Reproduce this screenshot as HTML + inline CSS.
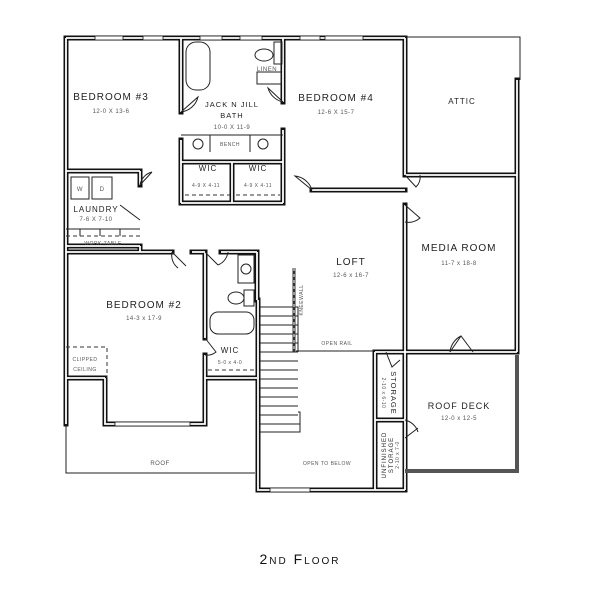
<!DOCTYPE html>
<html><head><meta charset="utf-8"><style>
html,body{margin:0;padding:0;background:#fff;width:600px;height:613px;overflow:hidden}
svg{display:block}
text{font-family:"Liberation Sans",sans-serif;fill:#222}
.w{fill:none;stroke:#111;stroke-width:5;stroke-linecap:square}
.wi{fill:none;stroke:#fff;stroke-width:1.8;stroke-linecap:butt}
.t{fill:none;stroke:#222;stroke-width:1}
.d{fill:none;stroke:#333;stroke-width:1;stroke-dasharray:4 3}
.big{font-size:10px;letter-spacing:1px}
.sm{font-size:6px;letter-spacing:0.5px;fill:#555}
</style></head><body>
<svg width="600" height="613" viewBox="0 0 600 613">
<defs>
<g id="walls">
<path d="M66,38 H405 M66,38 V424 M405,38 V175 M405,205 V490
M66,171 H140 M66,246 H140 M140,246 V252 M140,171 V185
M181,38 V112 M181,140 V203 M283,38 V102 M283,130 V203 M181,203 H283 M232,162 V203 M181,162 H283
M312,190 H405 M181,38 V38
M66,252 H172 M192,252 H205 M205,252 V338 M205,355 V378 M66,378 H105 M105,378 V424 H205 V378 H257 M257,252 V300 M221,252 H257
M405,175 H517 M517,80 V352 M405,352 H517
M258,300 V490 H405 M375,352 V490 M375,420 H405 M375,352 H405"/>
</g>
</defs>
<use href="#walls" class="w"/>
<use href="#walls" class="wi"/>
<!-- attic thin lines -->
<path class="t" d="M405,37 H520 V80"/>
<!-- roof deck gray wall -->
<path d="M405,471 H517 V355" fill="none" stroke="#555" stroke-width="4"/>
<!-- roof outline -->
<path class="t" d="M66,424 V473 H255"/>
<text x="160" y="465" class="sm" text-anchor="middle">ROOF</text>
<!-- windows -->
<g fill="#fff" stroke="#111" stroke-width="0.8">
<rect x="95" y="36" width="28" height="4"/><rect x="143" y="36" width="20" height="4"/>
<rect x="200" y="36" width="22" height="4"/><rect x="240" y="36" width="22" height="4"/>
<rect x="300" y="36" width="20" height="4"/><rect x="325" y="36" width="38" height="4"/>
<rect x="115" y="422" width="75" height="4"/>
<rect x="270" y="488" width="40" height="4"/>
</g>
<!-- stairs -->
<g class="t">
<path d="M260,307 H298 V352"/>
<path d="M260,316H298M260,325H298M260,334H298M260,343H298M260,352H298M260,361H298M260,370H298M260,379H298M260,388H298M260,397H298M260,406H298M260,415H298M260,424H300V412H298M260,432H300V412"/>
</g>
<path d="M294,268 V352" stroke="#333" stroke-width="3" fill="none"/>
<path d="M294,268 V352" stroke="#fff" stroke-width="1" stroke-dasharray="3 3" fill="none"/>
<path class="t" d="M296,351 H375"/>
<!-- doors -->
<g class="t">
<path d="M140,185 L152,172 M140,185 A16,16 0 0 1 152,172"/>
<path d="M181,112 L198,97 A20,20 0 0 1 181,112"/>
<path d="M283,102 L268,88 A20,20 0 0 0 283,102"/>
<path d="M312,190 L295,176 A20,20 0 0 1 312,190"/>
<path d="M405,205 L420,218 A18,18 0 0 1 405,222"/>
<path d="M405,175 L416,187 A14,14 0 0 0 420,175"/>
<path d="M172,252 L186,266 M172,252 A16,16 0 0 0 178,268"/>
<path d="M205,252 L218,265 M228,252 A16,16 0 0 1 218,265"/>
<path d="M205,338 L216,352 A14,14 0 0 1 205,355"/>
<path d="M386,352 L392,367 L400,360"/>
<path d="M450,352 L461,336 L473,352 M450,352 A20,20 0 0 1 461,336"/>
<path d="M405,438 L418,428 M405,420 A18,18 0 0 1 418,432"/>
<path d="M140,220 L120,205"/>
</g>
<!-- fixtures -->
<g class="t">
<rect x="186" y="42" width="24" height="48" rx="10"/>
<ellipse cx="264" cy="55" rx="9" ry="6"/><rect x="274" y="42" width="8" height="22"/>
<rect x="257" y="72" width="24" height="12"/>
<path d="M181,135 H283 M210,135 V152 M250,135 V152"/>
<circle cx="198" cy="144" r="5"/><circle cx="263" cy="144" r="5"/>
<rect x="71" y="177" width="18" height="22"/><rect x="92" y="177" width="20" height="22"/>
<path d="M66,229 H140 M80,229 V236 M100,229 V236 M120,229 V236"/>
<path class="d" d="M66,236 H140"/>
<rect x="238" y="255" width="16" height="28"/><circle cx="246" cy="269" r="5"/>
<ellipse cx="236" cy="298" rx="8" ry="6"/><rect x="244" y="290" width="10" height="16"/>
<rect x="210" y="312" width="44" height="22" rx="8"/>
</g>
<path class="d" d="M185,195 H230 M236,195 H280 M208,370 H255 M66,347 H107 V378"/>
<!-- labels -->
<text x="111" y="100" class="big" text-anchor="middle">BEDROOM #3</text>
<text x="111" y="113" class="sm" text-anchor="middle">12-0 X 13-6</text>
<text x="232" y="107" class="big" style="font-size:7.5px" text-anchor="middle">JACK N JILL</text>
<text x="232" y="118" class="big" style="font-size:7.5px" text-anchor="middle">BATH</text>
<text x="232" y="129" class="sm" text-anchor="middle">10-0 X 11-9</text>
<text x="230" y="146" class="sm" style="font-size:5px" text-anchor="middle">BENCH</text>
<text x="267" y="71" class="sm" text-anchor="middle">LINEN</text>
<text x="208" y="171" class="big" style="font-size:8px" text-anchor="middle">WIC</text>
<text x="258" y="171" class="big" style="font-size:8px" text-anchor="middle">WIC</text>
<text x="206" y="187" class="sm" style="font-size:5px" text-anchor="middle">4-9 X 4-11</text>
<text x="258" y="187" class="sm" style="font-size:5px" text-anchor="middle">4-9 X 4-11</text>
<text x="80" y="191" class="sm" text-anchor="middle">W</text><text x="102" y="191" class="sm" text-anchor="middle">D</text>
<text x="96" y="212" class="big" style="font-size:8px" text-anchor="middle">LAUNDRY</text>
<text x="96" y="221" class="sm" text-anchor="middle">7-6 X 7-10</text>
<text x="103" y="245" class="sm" style="font-size:5px" text-anchor="middle">WORK TABLE</text>
<text x="336" y="101" class="big" text-anchor="middle">BEDROOM #4</text>
<text x="336" y="114" class="sm" text-anchor="middle">12-6 X 15-7</text>
<text x="462" y="104" class="big" style="font-size:8px" text-anchor="middle">ATTIC</text>
<text x="459" y="251" class="big" text-anchor="middle">MEDIA ROOM</text>
<text x="459" y="265" class="sm" text-anchor="middle">11-7 x 18-8</text>
<text x="351" y="265" class="big" text-anchor="middle">LOFT</text>
<text x="351" y="277" class="sm" text-anchor="middle">12-6 x 16-7</text>
<text x="144" y="308" class="big" text-anchor="middle">BEDROOM #2</text>
<text x="144" y="320" class="sm" text-anchor="middle">14-3 x 17-9</text>
<text x="85" y="361" class="sm" style="font-size:5px" text-anchor="middle">CLIPPED</text>
<text x="85" y="371" class="sm" style="font-size:5px" text-anchor="middle">CEILING</text>
<text x="230" y="353" class="big" style="font-size:8px" text-anchor="middle">WIC</text>
<text x="230" y="364" class="sm" style="font-size:5px" text-anchor="middle">5-0 x 4-0</text>
<text x="337" y="345" class="sm" style="font-size:5px" text-anchor="middle">OPEN RAIL</text>
<text x="327" y="465" class="sm" style="font-size:5px" text-anchor="middle">OPEN TO BELOW</text>
<text x="459" y="409" class="big" style="font-size:9px" text-anchor="middle">ROOF DECK</text>
<text x="459" y="420" class="sm" text-anchor="middle">12-0 x 12-5</text>
<text transform="translate(303,300) rotate(-90)" class="sm" style="font-size:5px" text-anchor="middle">KNEEWALL</text>
<text transform="translate(391,393) rotate(90)" class="big" style="font-size:7.5px" text-anchor="middle">STORAGE</text>
<text transform="translate(382,393) rotate(90)" class="sm" style="font-size:5px" text-anchor="middle">2-10 x 6-10</text>
<text transform="translate(386,455) rotate(-90)" class="big" style="font-size:6px" text-anchor="middle">UNFINISHED</text>
<text transform="translate(393,455) rotate(-90)" class="big" style="font-size:6px" text-anchor="middle">STORAGE</text>
<text transform="translate(399,455) rotate(-90)" class="sm" style="font-size:5px" text-anchor="middle">2-10 x 7-0</text>
<text x="300" y="564" text-anchor="middle" style="font-size:14px;letter-spacing:2px;fill:#111">2<tspan style="font-size:10px">ND</tspan> F<tspan style="font-size:10px">LOOR</tspan></text>
</svg>
</body></html>
